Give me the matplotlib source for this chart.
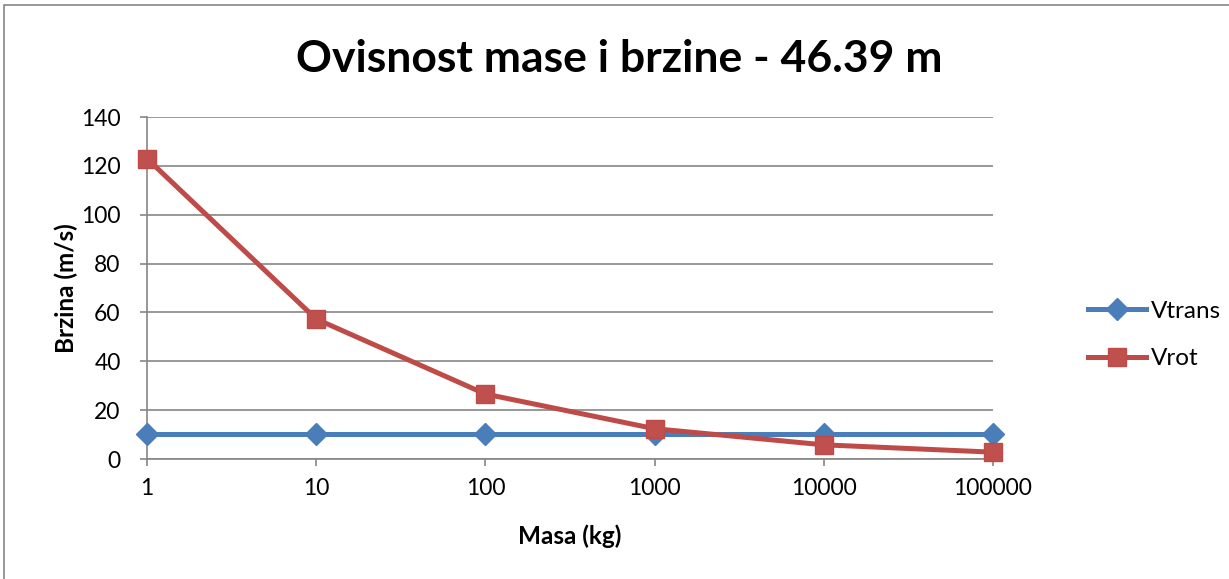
import matplotlib.pyplot as plt
from matplotlib.patches import Rectangle

masa = ['1', '10', '100', '1000', '10000', '100000']
vtrans = [10.1, 10.1, 10.1, 10.1, 10.1, 10.1]
vrot = [123.0, 57.3, 26.6, 12.4, 5.8, 2.8]
y_ticks = [0, 20, 40, 60, 80, 100, 120, 140]

plt.rcParams['font.family'] = ['Lato', 'DejaVu Sans']

fig = plt.figure(figsize=(12.29, 5.79), dpi=100)
ax = fig.add_axes([147 / 1229, 1 - 459 / 579, (993 - 147) / 1229, (459 - 117) / 579])

# outer chart border
fig.patches.append(Rectangle((4 / 1229, -0.05), 1.2, 1.05 - 5 / 579, transform=fig.transFigure,
                             fill=False, edgecolor='#868686', linewidth=1.2))

x = list(range(len(masa)))
ax.plot(x, vtrans, color='#4A7EBB', linewidth=3.6, marker='D', markersize=11,
        markerfacecolor='#4A7EBB', markeredgecolor='#4A7EBB', label='Vtrans',
        zorder=3, clip_on=False)
ax.plot(x, vrot, color='#BE4B48', linewidth=3.6, marker='s', markersize=13,
        markerfacecolor='#C0504D', markeredgecolor='#BE4B48', label='Vrot',
        zorder=4, clip_on=False)

ax.set_xlim(0, len(masa) - 1)
ax.set_ylim(0, 140)
ax.set_xticks(x)
ax.set_xticklabels(masa)
ax.set_yticks(y_ticks)
ax.grid(axis='y', color='#868686', linewidth=1.2)
ax.set_axisbelow(True)
for s in ['top', 'right']:
    ax.spines[s].set_visible(False)
for s in ['left', 'bottom']:
    ax.spines[s].set_color('#868686')
    ax.spines[s].set_linewidth(1.2)
ax.tick_params(axis='both', labelsize=16.5, color='#868686', length=5, width=1.2)
ax.tick_params(axis='x', pad=9)
ax.tick_params(axis='y', pad=14)

ax.set_xlabel('Masa (kg)', fontsize=17.5, fontweight='bold', labelpad=18)
ax.set_ylabel('Brzina (m/s)', fontsize=17.5, fontweight='bold', labelpad=2)
fig.text(0.504, 0.898, 'Ovisnost mase i brzine - 46.39 m', ha='center', va='center',
         fontsize=32, fontweight='bold')

fig.legend(loc='center left', bbox_to_anchor=(1066 / 1229, 1 - 335 / 579), frameon=False,
           fontsize=17.5, handlelength=2.4, labelspacing=1.1, handletextpad=0.2)

fig.savefig('out.png', dpi=100)
